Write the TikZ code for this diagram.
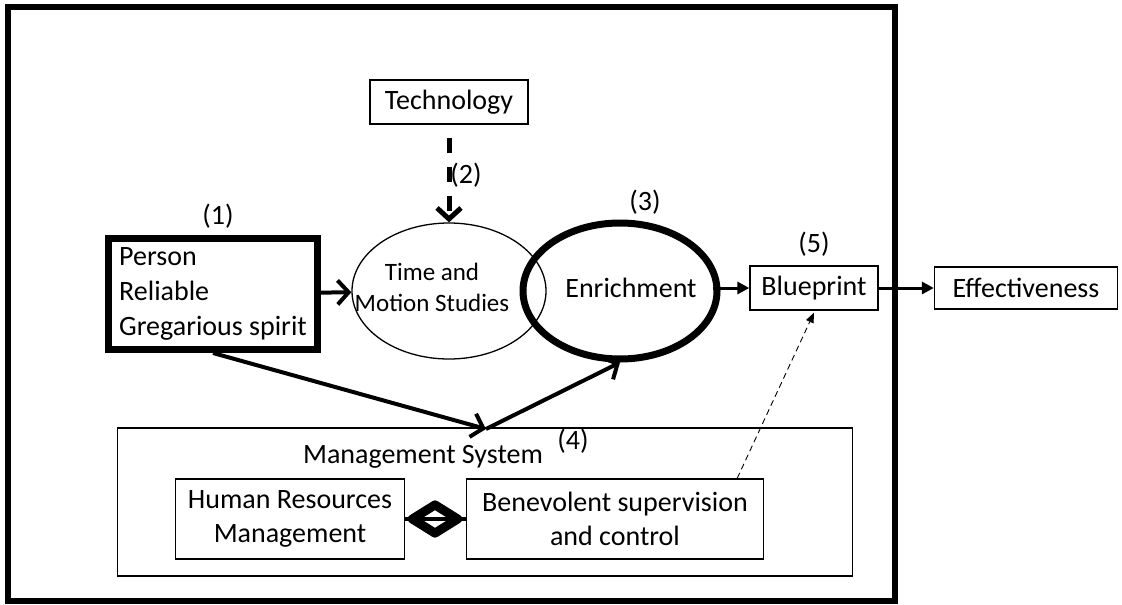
\documentclass[tikz,border=0pt]{standalone}
\usepackage{fontspec}
\setmainfont{Carlito}
\usetikzlibrary{arrows.meta, positioning, shapes.geometric}
\tikzset{
    plainbox/.style={
        rectangle,
        draw=black,
        line width=1.3pt,
        inner sep=0pt,
        align=center,
        font=\fontsize{28}{34}\selectfont
    },
    heavybox/.style={
        rectangle,
        draw=black,
        line width=7pt,
        inner sep=0pt,
        align=left,
        font=\fontsize{28}{35}\selectfont
    },
    study/.style={
        ellipse,
        draw=black,
        inner sep=0pt,
        minimum width=194pt,
        minimum height=136pt
    },
    tag/.style={
        inner sep=0pt,
        font=\fontsize{28}{34}\selectfont
    },
    flow/.style={
        draw=black,
        line width=4pt,
        -{Straight Barb[length=11pt,width=24pt]}
    },
    link/.style={
        draw=black,
        line width=3pt,
        -{Triangle[length=12pt,width=12pt]}
    },
    hint/.style={
        draw=black,
        line width=0.9pt,
        dash pattern=on 6pt off 4pt,
        -{Triangle[length=10pt,width=8pt]}
    }
}

\begin{document}
\begin{tikzpicture}[x=1pt, y=-1pt]
\useasboundingbox (0,0) rectangle (1122,605);

% Outer frame
\draw[line width=6pt] (8,7) rectangle (895,601);

% Technology
\node[plainbox, minimum width=158pt, minimum height=44pt] (tech) at (449,102) {Technology};
\node[tag] (tag2) at (466,175) {(2)};

% Time and motion studies
\node[study, line width=1.3pt] (motion) at (449,291) {};
\node[font=\fontsize{25}{31}\selectfont, align=center] (motion_txt) at (432,287) {Time and\\Motion Studies};

% Enrichment
\node[study, line width=7pt] (enrich) at (620,291) {};
\node[tag] (enrich_txt) at (631,288) {Enrichment};
\node[tag, above=5pt of enrich, xshift=25pt] (tag3) {(3)};

% Person
\node[heavybox, minimum width=209pt, minimum height=111pt] (person) at (213,294) {Person\\Reliable\\Gregarious spirit};
\node[tag, above=6pt of person, xshift=5pt] (tag1) {(1)};

% Blueprint and effectiveness
\node[plainbox, minimum width=128pt, minimum height=44pt] (blueprint) at (814,288) {Blueprint};
\node[tag, above=9pt of blueprint] (tag5) {(5)};
\node[plainbox, minimum width=183pt, minimum height=42pt] (effect) at (1026,288) {Effectiveness};

% Management system
\node[plainbox, minimum width=735pt, minimum height=148pt] (mgmt) at (485,502) {};
\node[tag] (mgmt_txt) at (423,457) {Management System};
\node[tag] (tag4) at (573,441) {(4)};
\node[plainbox, minimum width=229pt, minimum height=80pt] (hrm) at (290,519) {Human Resources\\Management};
\node[plainbox, minimum width=297pt, minimum height=80pt] (benev) at (615,519) {Benevolent supervision\\and control};
\draw[line width=4pt] (hrm) -- (benev);
\node[diamond, draw=black, line width=9pt, line join=round, inner sep=0pt, minimum width=49pt, minimum height=32pt] (hrm_link) at (435,519) {};

% Connections
\draw[flow, line width=5pt, dash pattern=on 15pt off 14pt, shorten <=13pt] (tech) -- (motion);
\draw[flow] (person) -- (motion);
\coordinate (junction) at (486,429);
\draw[flow] (person.south) -- (junction);
\draw[flow] (junction) -- (enrich.south);
\draw[link] (blueprint.west -| enrich.east) ++(-8,0) -- (blueprint.west);
\draw[link] (blueprint) -- (effect);
\draw[hint] ([xshift=-27pt]benev.north east) -- ([yshift=-2pt]blueprint.south);

\end{tikzpicture}
\end{document}
